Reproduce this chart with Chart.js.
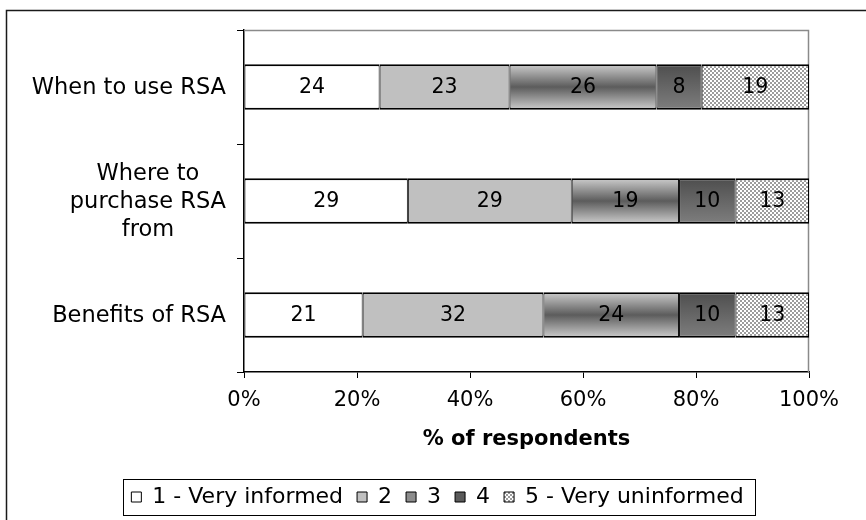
<!DOCTYPE html>
<html>
<head>
<meta charset="utf-8">
<script src="https://cdn.jsdelivr.net/npm/chart.js@4.4.1/dist/chart.umd.min.js"></script>
<style>
  html, body { margin: 0; padding: 0; background: #fff; }
  #wrap { width: 866px; height: 520px; position: relative; }
</style>
</head>
<body>
<div id="wrap"><canvas id="c" width="866" height="520"></canvas></div>
<script>
// Survey: how well informed respondents feel about RSA (share of respondents per rating)
const categories = ['When to use RSA', ['Where to', 'purchase RSA', 'from'], 'Benefits of RSA'];
const seriesNames = ['1 - Very informed', '2', '3', '4', '5 - Very uninformed'];
const veryInformed   = [24, 29, 21];
const rating2        = [23, 29, 32];
const rating3        = [26, 19, 24];
const rating4        = [8, 10, 10];
const veryUninformed = [19, 13, 13];
const xTickValues = [0, 20, 40, 60, 80, 100];
const xAxisTitle = '% of respondents';

const FONT = '"DejaVu Sans", Verdana, sans-serif';
const BAR_FRACTION = 0.4;

const canvas = document.getElementById('c');
const mainCtx = canvas.getContext('2d');

// small grey/white checkerboard used for the last rating
function checkerPattern() {
  const c = document.createElement('canvas');
  c.width = 4; c.height = 4;
  const g = c.getContext('2d');
  g.fillStyle = '#ffffff'; g.fillRect(0, 0, 4, 4);
  g.fillStyle = '#9c9c9c'; g.fillRect(0, 0, 2, 2); g.fillRect(2, 2, 2, 2);
  return mainCtx.createPattern(c, 'repeat');
}
const checker = checkerPattern();

// vertical extent of the bar drawn for a category
function barBand(ctx) {
  const chart = ctx.chart;
  const y = chart.scales && chart.scales.y;
  if (!y || !chart.chartArea || ctx.dataIndex === undefined) return null;
  const c = y.getPixelForValue(ctx.dataIndex);
  const half = (y.height / y.getLabels().length) * BAR_FRACTION / 2;
  return [c - half, c + half];
}
function shadedMiddle(ctx) {
  const b = barBand(ctx);
  if (!b) return '#8c8c8c';
  const g = ctx.chart.ctx.createLinearGradient(0, b[0], 0, b[1]);
  g.addColorStop(0, '#cdcdcd');
  g.addColorStop(0.5, '#5c5c5c');
  g.addColorStop(1, '#cdcdcd');
  return g;
}
function shadedDark(ctx) {
  const b = barBand(ctx);
  if (!b) return '#5c5c5c';
  const g = ctx.chart.ctx.createLinearGradient(0, b[0], 0, b[1]);
  g.addColorStop(0, '#4e4e4e');
  g.addColorStop(1, '#7e7e7e');
  return g;
}

const legendFills = ['#ffffff', '#c0c0c0', '#8c8c8c', '#5a5a5a', checker];
const seriesValues = [veryInformed, rating2, rating3, rating4, veryUninformed];
const seriesFills = ['#ffffff', '#c0c0c0', shadedMiddle, shadedDark, checker];

const datasets = seriesNames.map((name, i) => ({
  label: name,
  data: seriesValues[i],
  backgroundColor: seriesFills[i],
  borderColor: '#000000',
  borderWidth: { top: 2, bottom: 2, left: 1, right: 1 },
  borderSkipped: false,
  barPercentage: BAR_FRACTION,
  categoryPercentage: 1.0
}));

const LEGEND_PAD = 14;
const PAD = { left: 9, right: 0, top: 30, bottom: 2 };
const PLOT_LEFT = 244, PLOT_RIGHT = 809, PLOT_BOTTOM = 372;

const framePlugin = {
  id: 'frame',
  beforeDraw(chart) {
    const ctx = chart.ctx;
    ctx.save();
    ctx.fillStyle = '#ffffff';
    ctx.fillRect(0, 0, chart.width, chart.height);
    ctx.strokeStyle = '#1a1a1a';
    ctx.lineWidth = 1.5;
    ctx.strokeRect(6.5, 10.5, chart.width + 20, chart.height + 20);
    ctx.restore();
  },
  beforeDatasetsDraw(chart) {
    // light plot border on top and right
    const a = chart.chartArea, ctx = chart.ctx;
    ctx.save();
    ctx.strokeStyle = '#8a8a8a';
    ctx.lineWidth = 1.5;
    ctx.beginPath();
    ctx.moveTo(a.left, a.top + 0.5);
    ctx.lineTo(a.right - 0.5, a.top + 0.5);
    ctx.lineTo(a.right - 0.5, a.bottom);
    ctx.stroke();
    ctx.restore();
  },
  afterDatasetsDraw(chart) {
    // values inside each segment
    const ctx = chart.ctx;
    ctx.save();
    ctx.font = '20.5px ' + FONT;
    ctx.fillStyle = '#000000';
    ctx.textAlign = 'center';
    ctx.textBaseline = 'middle';
    chart.data.datasets.forEach((ds, di) => {
      const meta = chart.getDatasetMeta(di);
      meta.data.forEach((el, i) => {
        const p = el.getCenterPoint();
        ctx.fillText(String(ds.data[i]), p.x, p.y + 1);
      });
    });
    ctx.restore();
  },
  afterDraw(chart) {
    const ctx = chart.ctx;
    // category labels: right-aligned block, lines centred on each other
    const y = chart.scales.y;
    const labelRight = y.right - 7 - 11;
    ctx.save();
    ctx.font = '22.5px ' + FONT;
    ctx.fillStyle = '#000000';
    ctx.textAlign = 'center';
    ctx.textBaseline = 'middle';
    y.getLabels().forEach((lab, i) => {
      const lines = Array.isArray(lab) ? lab : [lab];
      const w = Math.max(...lines.map(l => ctx.measureText(l).width));
      const cx = labelRight - w / 2;
      const cy = y.getPixelForValue(i);
      lines.forEach((l, k) => ctx.fillText(l, cx, cy + 1 + (k - (lines.length - 1) / 2) * 28));
    });
    // box around the legend
    const hb = chart.legend.legendHitBoxes;
    if (hb && hb.length) {
      const left = Math.min(...hb.map(h => h.left)) - 8;
      const right = Math.max(...hb.map(h => h.left + h.width)) + 12;
      const cy = hb[0].top + hb[0].height / 2;
      ctx.strokeStyle = '#000000';
      ctx.lineWidth = 1;
      ctx.strokeRect(Math.round(left) + 0.5, Math.round(cy - 18) + 0.5, Math.round(right - left), 36);
    }
    ctx.restore();
  }
};

new Chart(canvas, {
  type: 'bar',
  data: { labels: categories, datasets },
  options: {
    indexAxis: 'y',
    responsive: false,
    animation: false,
    devicePixelRatio: 1,
    layout: { padding: PAD },
    plugins: {
      tooltip: { enabled: false },
      legend: {
        position: 'bottom',
        labels: {
          font: { family: FONT, size: 22 },
          color: '#000000',
          boxWidth: 10,
          boxHeight: 10,
          padding: LEGEND_PAD,
          generateLabels: chart => chart.data.datasets.map((ds, i) => ({
            text: ds.label,
            fillStyle: legendFills[i],
            strokeStyle: '#000000',
            lineWidth: 1,
            hidden: false,
            datasetIndex: i
          }))
        }
      }
    },
    scales: {
      x: {
        stacked: true,
        min: 0,
        max: 100,
        afterBuildTicks: s => { s.ticks = xTickValues.map(v => ({ value: v })); },
        afterFit: s => { s.height = s.chart.height - PAD.bottom - s.chart.legend.height - PLOT_BOTTOM; },
        ticks: {
          callback: v => v + '%',
          font: { family: FONT, size: 21 },
          color: '#000000',
          padding: 10,
          maxRotation: 0
        },
        grid: { drawOnChartArea: false, drawTicks: true, tickLength: 6, color: '#000000' },
        border: { color: '#000000', width: 1.5 },
        title: {
          display: true,
          text: xAxisTitle,
          font: { family: FONT, size: 21, weight: 'bold' },
          color: '#000000',
          padding: { top: 0, bottom: 20 }
        }
      },
      y: {
        type: 'category',
        stacked: true,
        afterFit: s => { s.width = PLOT_LEFT - PAD.left; },
        ticks: { display: false },
        grid: { drawOnChartArea: false, drawTicks: true, tickLength: 7, color: '#000000', offset: true },
        border: { color: '#000000', width: 1.5 }
      },
      yRight: {
        type: 'category',
        position: 'right',
        labels: categories,
        afterFit: s => { s.width = 866 - PAD.right - PLOT_RIGHT; },
        ticks: { display: false },
        grid: { display: false },
        border: { display: false }
      }
    }
  },
  plugins: [framePlugin]
});
</script>
</body>
</html>
